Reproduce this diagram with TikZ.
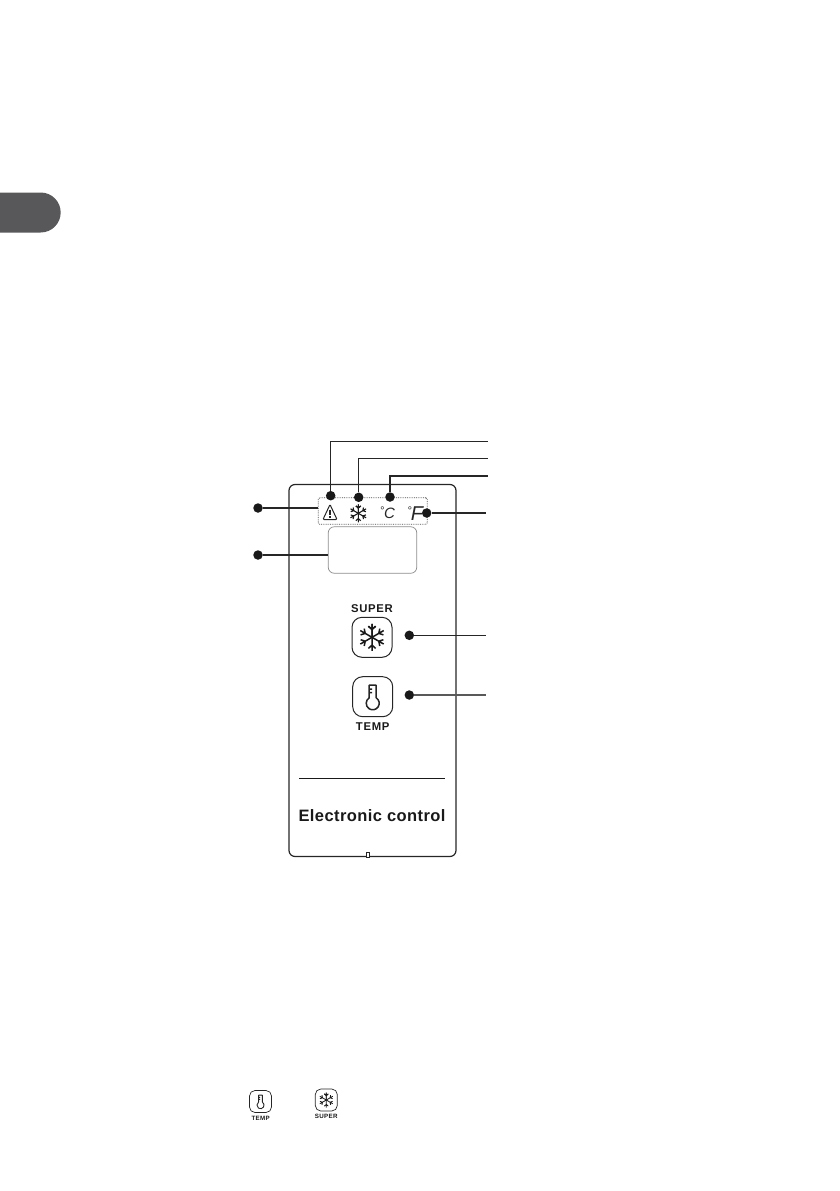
\documentclass[tikz,border=0pt]{standalone}
\usepackage{fontspec}
\setmainfont{Liberation Sans}
\newfontfamily\panelfont[LetterSpace=2.5]{Liberation Sans}
\newfontfamily\keyfont[LetterSpace=6]{Liberation Sans}
\usetikzlibrary{positioning, calc}
\definecolor{tabgray}{HTML}{58585A}
\begin{document}
\begin{tikzpicture}[x=1pt, y=-1pt,
  dot/.style={circle, fill=black!90, inner sep=0pt, minimum size=9.5pt},
  leader/.style={line width=1.2pt, black!85},
  panel/.style={rectangle, draw=black!85, line width=1.2pt, rounded corners=6pt, inner sep=0pt,
                minimum width=167pt, minimum height=372pt},
  group/.style={rectangle, draw=black!70, line width=0.8pt, densely dotted, rounded corners=1.5pt, inner sep=0pt,
                minimum width=109pt, minimum height=26.5pt},
  display/.style={rectangle, draw=black!45, line width=0.7pt, rounded corners=6pt, inner sep=0pt,
                  minimum width=88.5pt, minimum height=46.5pt},
  keybig/.style={rectangle, draw=black!85, line width=1pt, rounded corners=10pt, inner sep=0pt, minimum size=40pt},
  keysmall/.style={rectangle, draw=black!85, line width=0.7pt, rounded corners=5.5pt, inner sep=0pt, minimum size=22pt},
  keylabel/.style={font=\keyfont\bfseries\fontsize{11.3}{12}\selectfont, inner sep=0pt, text=black!90},
  keylabelsmall/.style={font=\keyfont\bfseries\fontsize{6.2}{7}\selectfont, inner sep=0pt, text=black!90},
  lcd/.style={inner sep=0pt, text=black!85},
  flake/.pic={
    \foreach \a in {90,150,...,450} {
      \draw[rotate=\a, line width=\flakew pt, black!90] (0,0) -- (1,0)
        (0.58,0) -- ++(48:0.36) (0.58,0) -- ++(-48:0.36);
    }
  },
  thermo/.pic={
    \draw[line width=\thermow pt, black!85, line join=round]
      (3.5,1.12) arc[start angle=-57.4, end angle=237.4, radius=6.5]
      -- (-3.5,-11.5) -- (3.5,-11.5) -- cycle
      (-3.5,-7.5) -- (-0.5,-7.5) (-3.5,-4) -- (-0.5,-4);
  }
]
  \useasboundingbox (0,0) rectangle (839,1191);
  \def\flakew{1.1}
  \def\thermow{1.5}

  \fill[tabgray, rounded corners=20pt] (-30,192.5) rectangle (60.7,232.5);

  \node[panel] (body) at (372.5,670.5) {};
  \node[draw=black!85, fill=white, line width=0.7pt, inner sep=0pt, minimum width=3pt, minimum height=5pt] (notch) at (368,855) {};
  \node[group] (icons) at (372.8,511) {};
  \node[display] (screen) at (372.5,550) {};

  \draw[line width=1pt, black!85, line join=round, rounded corners=1pt] (330,504.5) -- (337,519.5) -- (323,519.5) -- cycle;
  \draw[line width=1.4pt, black!85] (330,509.5) -- (330,515) (330,516) -- (330,517.5);
  \pic[scale=9] at (358.3,513.3) {flake};
  \node[lcd, font=\itshape\fontsize{11}{12}\selectfont] (degc) at (382,510.5) {°};
  \node[lcd, font=\itshape\fontsize{15}{16}\selectfont] (letterc) at (389.5,513) {C};
  \node[lcd, font=\itshape\fontsize{11}{12}\selectfont] (degf) at (409.5,510.5) {°};
  \node[lcd, font=\itshape\fontsize{20}{21}\selectfont] (letterf) at (417,514) {F};

  \node[keylabel] (supertext) at (372,608.7) {SUPER};
  \node[keybig] (superkey) at (372,637.3) {};
  \def\flakew{1.5}
  \pic[scale=13.5] at (superkey) {flake};
  \node[keybig] (tempkey) at (372.7,696.7) {};
  \pic at (tempkey) {thermo};
  \node[keylabel] (temptext) at (372.7,726.3) {TEMP};

  \node[inner sep=0pt, font=\panelfont\bfseries\fontsize{16.5}{18}\selectfont, text=black!90] (brand) at (372,816) {Electronic control};
  \coordinate (ruleleft) at (299,778.3);
  \coordinate (ruleright) at (445,778.3);
  \draw[line width=1pt, black!90] (ruleleft) -- (ruleright);

  \node[dot] (alarmdot) at (330.7,495.7) {};
  \node[dot] (fastdot) at (358.7,497.3) {};
  \node[dot] (celsdot) at (390,497) {};
  \node[dot] (fahrdot) at (426.7,513) {};
  \node[dot] (groupdot) at (258,508) {};
  \node[dot] (screendot) at (258,555) {};
  \node[dot] (superdot) at (409.3,635.3) {};
  \node[dot] (tempdot) at (409.3,695) {};

  \coordinate (alarmend) at (488,441.7);
  \coordinate (fastend) at (488,458.3);
  \coordinate (celsend) at (488,476);
  \coordinate (fahrend) at (486,513);
  \coordinate (superend) at (485.7,635.3);
  \coordinate (tempend) at (485.7,695);

  \draw[leader] (alarmdot) |- (alarmend);
  \draw[leader] (fastdot) |- (fastend);
  \draw[leader] (celsdot) |- (celsend);
  \draw[leader] (fahrdot) -- (fahrend);
  \draw[leader] (groupdot) -- (icons.west |- groupdot);
  \draw[leader] (screendot) -- (screen.west |- screendot);
  \draw[leader] (superdot) -- (superend);
  \draw[leader, black!65] (tempdot) -- (tempend);

  \def\flakew{0.8}
  \def\thermow{0.9}
  \node[keysmall] (tempkeysmall) at (260.5,1101.5) {};
  \pic[scale=0.55] at (tempkeysmall) {thermo};
  \node[keylabelsmall] (temptextsmall) at (260.7,1118.3) {TEMP};
  \node[keysmall] (superkeysmall) at (326.3,1100) {};
  \pic[scale=7.5] at (superkeysmall) {flake};
  \node[keylabelsmall] (supertextsmall) at (326.3,1116.7) {SUPER};
\end{tikzpicture}
\end{document}
